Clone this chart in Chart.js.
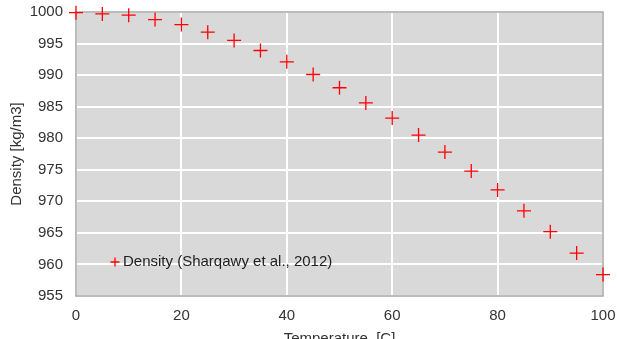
<!DOCTYPE html>
<html>
<head>
<meta charset="utf-8">
<script src="https://cdn.jsdelivr.net/npm/chart.js@4/dist/chart.umd.min.js"></script>
<style>
  html, body { margin: 0; padding: 0; background: #ffffff; overflow: hidden; }
  #wrap { width: 617px; height: 339px; position: relative; }
</style>
</head>
<body>
<div id="wrap"><canvas id="c" width="617" height="339"></canvas></div>
<script>
// Water density vs temperature (Sharqawy et al., 2012)
const temperatures = [0, 5, 10, 15, 20, 25, 30, 35, 40, 45, 50, 55, 60, 65, 70, 75, 80, 85, 90, 95, 100];
const densities = [999.9, 999.7, 999.5, 998.8, 998.0, 996.8, 995.5, 993.9, 992.1, 990.1, 988.0, 985.6, 983.2, 980.5, 977.8, 974.8, 971.8, 968.5, 965.2, 961.8, 958.4];
const seriesLabel = 'Density (Sharqawy et al., 2012)';
const xTitle = 'Temperature  [C]';
const yTitle = 'Density [kg/m3]';

const FONT = '"Liberation Sans", Arial, sans-serif';
const TEXT = '#333333';
const RED = '#ff0000';
const FRAME = '#a6a6a6';

// Grey plot background plus a thin frame on all four sides
const plotFrame = {
  id: 'plotFrame',
  beforeDraw(chart) {
    const { ctx, chartArea: a } = chart;
    ctx.save();
    ctx.fillStyle = '#d9d9d9';
    ctx.fillRect(a.left, a.top, a.right - a.left, a.bottom - a.top);
    ctx.restore();
  },
  beforeDatasetsDraw(chart) {
    const { ctx, chartArea: a } = chart;
    ctx.save();
    ctx.strokeStyle = FRAME;
    ctx.lineWidth = 1.5;
    ctx.strokeRect(a.left, a.top, a.right - a.left, a.bottom - a.top);
    ctx.restore();
  }
};

// Legend drawn inside the plot, bottom-left
const innerLegend = {
  id: 'innerLegend',
  afterDatasetsDraw(chart) {
    const { ctx, chartArea: a } = chart;
    const ds = chart.data.datasets[0];
    const cx = a.left + 39, cy = a.bottom - 34;
    ctx.save();
    ctx.strokeStyle = ds.borderColor;
    ctx.lineWidth = 1.3;
    ctx.beginPath();
    ctx.moveTo(cx - 4.5, cy); ctx.lineTo(cx + 4.5, cy);
    ctx.moveTo(cx, cy - 4.5); ctx.lineTo(cx, cy + 4.5);
    ctx.stroke();
    ctx.fillStyle = '#222222';
    ctx.font = '15px ' + FONT;
    ctx.textBaseline = 'middle';
    ctx.textAlign = 'left';
    ctx.fillText(ds.label, cx + 8, cy);
    ctx.restore();
  }
};

new Chart(document.getElementById('c'), {
  type: 'scatter',
  data: {
    datasets: [{
      label: seriesLabel,
      data: temperatures.map((t, i) => ({ x: t, y: densities[i] })),
      pointStyle: 'cross',
      pointRadius: 7,
      pointHoverRadius: 7,
      borderColor: RED,
      backgroundColor: RED,
      pointBorderWidth: 1.3,
      clip: false
    }]
  },
  options: {
    responsive: false,
    animation: false,
    events: [],
    layout: { padding: { top: 12, right: 14, left: 0, bottom: 0 } },
    plugins: {
      legend: { display: false },
      tooltip: { enabled: false }
    },
    scales: {
      x: {
        type: 'linear',
        min: 0, max: 100,
        ticks: { stepSize: 20, padding: 11, color: TEXT, font: { family: FONT, size: 15 },
                 callback: v => String(v) },
        grid: { color: '#ffffff', lineWidth: 2, drawTicks: false },
        border: { display: false },
        title: {
          display: true, text: xTitle, color: TEXT,
          font: { family: FONT, size: 15 },
          padding: { top: 0, bottom: -9 }
        },
        afterFit(scale) {
          scale.height = 43;
          scale.paddingLeft = 0;
          scale.paddingRight = 0;
        }
      },
      y: {
        type: 'linear',
        min: 955, max: 1000,
        ticks: { stepSize: 5, padding: 13, color: TEXT, font: { family: FONT, size: 15 },
                 callback: v => String(v) },
        grid: { color: '#ffffff', lineWidth: 2, drawTicks: false },
        border: { display: false },
        title: {
          display: true, text: yTitle, color: TEXT,
          font: { family: FONT, size: 15 },
          padding: { top: 8, bottom: 0 }
        },
        afterFit(scale) {
          scale.width = 76;
          scale.paddingTop = 0;
          scale.paddingBottom = 0;
        }
      }
    }
  },
  plugins: [plotFrame, innerLegend]
});
</script>
</body>
</html>
